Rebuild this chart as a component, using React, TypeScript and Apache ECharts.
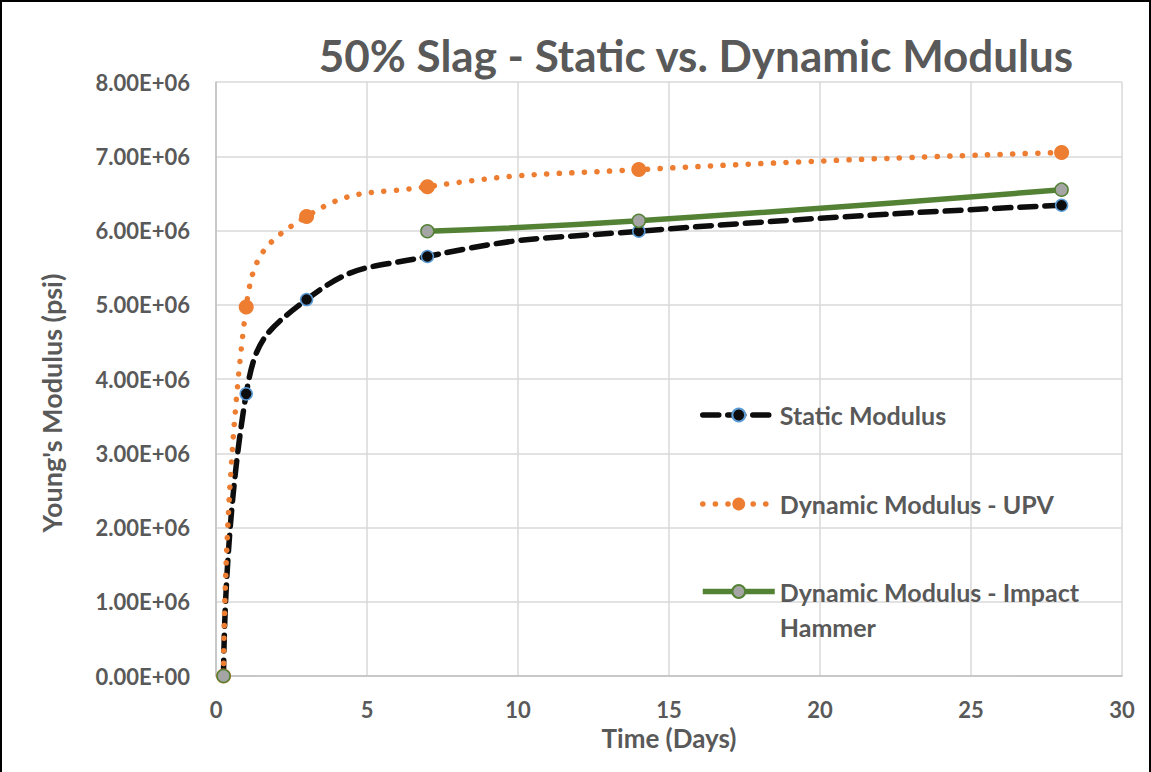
import React, { useEffect, useRef } from "react";
import * as echarts from "echarts";

// Curing age in days
const days = [0.25, 1, 3, 7, 14, 28];

// Young's modulus (psi) per age
const staticModulus = [0, 3.8e6, 5.07e6, 5.65e6, 5.99e6, 6.34e6];
const upvModulus = [0, 4.97e6, 6.19e6, 6.59e6, 6.82e6, 7.05e6];
// Impact hammer has no readings at 1 and 3 days
const impactModulus: (number | null)[] = [0, null, null, 5.99e6, 6.13e6, 6.55e6];

const seriesNames = [
  "Static Modulus",
  "Dynamic Modulus - UPV",
  "Dynamic Modulus - Impact Hammer",
];

const TEXT = "#595959";
const FONT = "Lato, 'Open Sans', sans-serif";

function fmtSci(v: number): string {
  if (v === 0) return "0.00E+00";
  const exp = Math.floor(Math.log10(Math.abs(v)));
  const mant = v / Math.pow(10, exp);
  return mant.toFixed(2) + "E+" + String(exp).padStart(2, "0");
}

function pairs(ys: (number | null)[]) {
  return days.map((d, i) => [d, ys[i] === null ? "-" : ys[i]]);
}

const legendText = {
  fontFamily: FONT,
  fontSize: 25,
  fontWeight: "bold",
  color: TEXT,
};

function legendAt(name: string, top: number, extra: object = {}) {
  return {
    orient: "vertical",
    left: 698,
    top,
    padding: 0,
    itemWidth: 72,
    itemHeight: 16,
    data: [name],
    lineStyle: { width: 5.5 },
    textStyle: { ...legendText, lineHeight: 30 },
    ...extra,
  };
}

export default function App() {
  const ref = useRef<HTMLDivElement>(null);

  useEffect(() => {
    if (!ref.current) return;
    const chart = echarts.init(ref.current, undefined, { renderer: "svg" });
    chart.setOption({
      animation: false,
      backgroundColor: "#fff",
      title: {
        text: "50% Slag - Static vs. Dynamic Modulus",
        left: 689,
        top: 26,
        textAlign: "center",
        textStyle: { fontFamily: FONT, fontSize: 44, fontWeight: "bold", color: TEXT },
      },
      grid: { left: 214, right: 27, top: 80, bottom: 96 },
      xAxis: {
        type: "value",
        min: 0,
        max: 30,
        interval: 5,
        name: "Time (Days)",
        nameLocation: "middle",
        nameGap: 49,
        nameTextStyle: { fontFamily: FONT, fontSize: 26, fontWeight: "bold", color: TEXT },
        axisLine: { lineStyle: { color: "#BFBFBF", width: 1.5 } },
        axisTick: { show: false },
        axisLabel: { fontFamily: FONT, fontSize: 22, fontWeight: "bold", color: TEXT, margin: 22 },
        splitLine: { lineStyle: { color: "#D9D9D9", width: 1.5 } },
      },
      yAxis: {
        type: "value",
        min: 0,
        max: 8e6,
        interval: 1e6,
        name: "Young's Modulus (psi)",
        nameLocation: "middle",
        nameGap: 151,
        nameTextStyle: {
          fontFamily: FONT,
          fontSize: 27,
          fontWeight: "bold",
          color: TEXT,
          padding: [0, 48, 0, 0],
        },
        axisLine: { show: true, lineStyle: { color: "#BFBFBF", width: 1.5 } },
        axisTick: { show: false },
        axisLabel: {
          fontFamily: FONT,
          fontSize: 22,
          fontWeight: "bold",
          color: TEXT,
          margin: 26,
          formatter: (v: number) => fmtSci(v),
        },
        splitLine: { lineStyle: { color: "#D9D9D9", width: 1.5 } },
      },
      legend: [
        legendAt(seriesNames[0], 398),
        legendAt(seriesNames[1], 487),
        // blank first line keeps the icon level with the first text line
        legendAt(seriesNames[2], 537, {
          formatter: () => " \nDynamic Modulus - Impact\nHammer",
          textStyle: { ...legendText, lineHeight: 35 },
        }),
      ],
      series: [
        {
          name: seriesNames[0],
          type: "line",
          smooth: 0.5,
          data: pairs(staticModulus),
          symbol: "circle",
          symbolSize: 12,
          z: 2,
          lineStyle: { color: "#0D0D0D", width: 5.5, type: [16, 9], cap: "round" },
          itemStyle: { color: "#0D0D0D", borderColor: "#5B9BD5", borderWidth: 1.5 },
        },
        {
          name: seriesNames[1],
          type: "line",
          smooth: 0.5,
          data: pairs(upvModulus),
          symbol: "circle",
          symbolSize: 15,
          z: 3,
          lineStyle: { color: "#ED7D31", width: 5.5, type: [0.1, 12.5], cap: "round" },
          itemStyle: { color: "#ED7D31" },
        },
        {
          name: seriesNames[2],
          type: "line",
          smooth: 0.5,
          connectNulls: false,
          data: pairs(impactModulus),
          symbol: "circle",
          symbolSize: 13,
          z: 4,
          lineStyle: { color: "#548235", width: 5.5 },
          itemStyle: { color: "#A5A5A5", borderColor: "#548235", borderWidth: 1.5 },
        },
      ],
    });
    return () => chart.dispose();
  }, []);

  return (
    <div
      ref={ref}
      style={{
        position: "absolute",
        left: 0,
        top: 0,
        width: 1151,
        height: 772,
        boxSizing: "border-box",
        border: "2px solid #000",
        borderBottom: "none",
      }}
    />
  );
}
